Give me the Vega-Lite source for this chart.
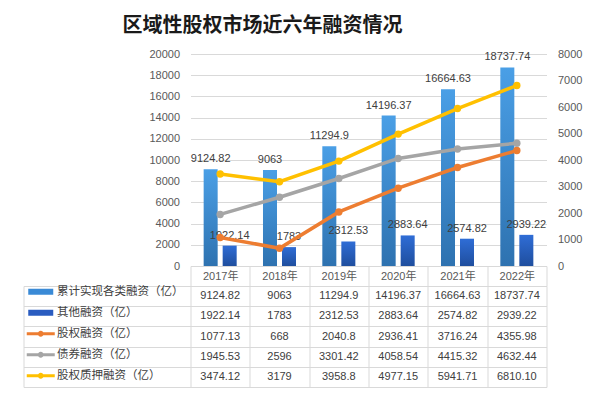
{
  "$schema": "https://vega.github.io/schema/vega-lite/v6.json",
  "padding": {"left": 22.5, "top": 16, "right": 5, "bottom": 5},
  "background": "white",
  "config": {
    "font": "Liberation Sans, Noto Sans CJK SC",
    "view": {"stroke": null},
    "axis": {"labelFont": "Liberation Sans, Noto Sans CJK SC", "labelColor": "#595959", "labelFontSize": 11}
  },
  "datasets": {
    "d": [
      {"year": "2017年", "series": "累计实现各类融资（亿）", "value": 9124.82, "label": "9124.82"},
      {"year": "2018年", "series": "累计实现各类融资（亿）", "value": 9063, "label": "9063"},
      {"year": "2019年", "series": "累计实现各类融资（亿）", "value": 11294.9, "label": "11294.9"},
      {"year": "2020年", "series": "累计实现各类融资（亿）", "value": 14196.37, "label": "14196.37"},
      {"year": "2021年", "series": "累计实现各类融资（亿）", "value": 16664.63, "label": "16664.63"},
      {"year": "2022年", "series": "累计实现各类融资（亿）", "value": 18737.74, "label": "18737.74"},
      {"year": "2017年", "series": "其他融资（亿）", "value": 1922.14, "label": "1922.14"},
      {"year": "2018年", "series": "其他融资（亿）", "value": 1783, "label": "1783"},
      {"year": "2019年", "series": "其他融资（亿）", "value": 2312.53, "label": "2312.53"},
      {"year": "2020年", "series": "其他融资（亿）", "value": 2883.64, "label": "2883.64"},
      {"year": "2021年", "series": "其他融资（亿）", "value": 2574.82, "label": "2574.82"},
      {"year": "2022年", "series": "其他融资（亿）", "value": 2939.22, "label": "2939.22"},
      {"year": "2017年", "series": "股权融资（亿）", "value": 1077.13, "label": "1077.13"},
      {"year": "2018年", "series": "股权融资（亿）", "value": 668, "label": "668"},
      {"year": "2019年", "series": "股权融资（亿）", "value": 2040.8, "label": "2040.8"},
      {"year": "2020年", "series": "股权融资（亿）", "value": 2936.41, "label": "2936.41"},
      {"year": "2021年", "series": "股权融资（亿）", "value": 3716.24, "label": "3716.24"},
      {"year": "2022年", "series": "股权融资（亿）", "value": 4355.98, "label": "4355.98"},
      {"year": "2017年", "series": "债券融资（亿）", "value": 1945.53, "label": "1945.53"},
      {"year": "2018年", "series": "债券融资（亿）", "value": 2596, "label": "2596"},
      {"year": "2019年", "series": "债券融资（亿）", "value": 3301.42, "label": "3301.42"},
      {"year": "2020年", "series": "债券融资（亿）", "value": 4058.54, "label": "4058.54"},
      {"year": "2021年", "series": "债券融资（亿）", "value": 4415.32, "label": "4415.32"},
      {"year": "2022年", "series": "债券融资（亿）", "value": 4632.44, "label": "4632.44"},
      {"year": "2017年", "series": "股权质押融资（亿）", "value": 3474.12, "label": "3474.12"},
      {"year": "2018年", "series": "股权质押融资（亿）", "value": 3179, "label": "3179"},
      {"year": "2019年", "series": "股权质押融资（亿）", "value": 3958.8, "label": "3958.8"},
      {"year": "2020年", "series": "股权质押融资（亿）", "value": 4977.15, "label": "4977.15"},
      {"year": "2021年", "series": "股权质押融资（亿）", "value": 5941.71, "label": "5941.71"},
      {"year": "2022年", "series": "股权质押融资（亿）", "value": 6810.1, "label": "6810.10"}
    ]
  },
  "bounds": "flush",
  "spacing": 20,
  "resolve": {"scale": {"color": "independent", "shape": "independent"}},
  "vconcat": [
    {
      "width": 356,
      "height": 212,
      "title": {"text": "区域性股权市场近六年融资情况", "font": "Noto Sans CJK SC", "fontSize": 20, "fontWeight": "bold", "color": "#1a1a1a", "anchor": "middle", "frame": "group", "dx": -106, "offset": 12},
      "data": {"name": "d"},
      "encoding": {
        "x": {"field": "year", "type": "nominal", "sort": null, "scale": {"paddingInner": 0, "paddingOuter": 0},
          "axis": {"orient": "bottom", "title": null, "domain": true, "domainColor": "#d9d9d9", "ticks": true, "tickBand": "extent", "tickSize": 20, "tickColor": "#d9d9d9", "labelPadding": -10, "labelBaseline": "middle", "labelAngle": 0, "labelColor": "#595959", "labelFontSize": 11}}
      },
      "layer": [
        {
          "encoding": {
            "y": {"field": "value", "type": "quantitative", "scale": {"domain": [0, 20000]},
              "axis": {"orient": "left", "title": null, "format": "d", "values": [0, 2000, 4000, 6000, 8000, 10000, 12000, 14000, 16000, 18000, 20000], "grid": true, "gridColor": "#d9d9d9", "domain": false, "ticks": false, "labelPadding": 11}},
            "xOffset": {"field": "series", "scale": {"domain": ["累计实现各类融资（亿）", "其他融资（亿）"], "paddingInner": 0.263, "paddingOuter": 0.692}}
          },
          "layer": [
            {
              "transform": [{"filter": {"field": "series", "equal": "累计实现各类融资（亿）"}}],
              "mark": {"type": "bar", "color": {"gradient": "linear", "x1": 0, "y1": 0, "x2": 0, "y2": 1, "stops": [{"offset": 0, "color": "#4A9FE6"}, {"offset": 1, "color": "#2E72B0"}]}}
            },
            {
              "transform": [{"filter": {"field": "series", "equal": "其他融资（亿）"}}],
              "mark": {"type": "bar", "color": {"gradient": "linear", "x1": 0, "y1": 0, "x2": 0, "y2": 1, "stops": [{"offset": 0, "color": "#2F6DD6"}, {"offset": 1, "color": "#1F4E9E"}]}}
            },
            {
              "transform": [{"filter": {"field": "series", "oneOf": ["累计实现各类融资（亿）", "其他融资（亿）"]}}],
              "mark": {"type": "text", "baseline": "bottom", "dy": -5, "fontSize": 11, "color": "#404040"},
              "encoding": {"text": {"field": "label"}}
            }
          ]
        },
        {
          "transform": [{"filter": {"field": "series", "oneOf": ["股权融资（亿）", "债券融资（亿）", "股权质押融资（亿）"]}}],
          "mark": {"type": "line", "strokeWidth": 3.5, "strokeCap": "round", "point": {"filled": true, "size": 55}},
          "encoding": {
            "y": {"field": "value", "type": "quantitative", "scale": {"domain": [0, 8000]},
              "axis": {"orient": "right", "title": null, "format": "d", "values": [0, 1000, 2000, 3000, 4000, 5000, 6000, 7000, 8000], "grid": false, "domain": false, "ticks": false, "labelPadding": 11}},
            "color": {"field": "series", "scale": {"domain": ["股权融资（亿）", "债券融资（亿）", "股权质押融资（亿）"], "range": ["#ED7D31", "#A5A5A5", "#FFC000"]}, "legend": null}
          }
        }
      ],
      "resolve": {"scale": {"y": "independent"}}
    },
    {
      "width": 356,
      "height": 101,
      "data": {"name": "d"},
      "encoding": {
        "x": {"field": "year", "type": "nominal", "sort": null, "scale": {"paddingInner": 0, "paddingOuter": 0},
          "axis": {"orient": "bottom", "title": null, "grid": true, "gridColor": "#d9d9d9", "tickBand": "extent", "labels": false, "ticks": false, "domain": false}},
        "y": {"field": "series", "type": "nominal", "sort": null, "scale": {"domain": ["累计实现各类融资（亿）", "其他融资（亿）", "股权融资（亿）", "债券融资（亿）", "股权质押融资（亿）"], "paddingInner": 0, "paddingOuter": 0},
          "axis": {"orient": "left", "title": null, "grid": true, "gridColor": "#d9d9d9", "tickBand": "extent", "labels": false, "ticks": true, "tickSize": -167, "tickColor": "#d9d9d9", "offset": 167, "domain": true, "domainColor": "#d9d9d9"}}
      },
      "layer": [
        {
          "mark": {"type": "text", "fontSize": 11, "color": "#404040"},
          "encoding": {"text": {"field": "label"}}
        },
        {
          "mark": {"type": "point", "filled": true, "opacity": 0},
          "encoding": {
            "color": {"field": "series", "sort": null,
              "scale": {"domain": ["累计实现各类融资（亿）", "其他融资（亿）", "股权融资（亿）", "债券融资（亿）", "股权质押融资（亿）"], "range": ["#3A8AD6", "#2A5CC0", "#ED7D31", "#A5A5A5", "#FFC000"]},
              "legend": {"orient": "none", "legendX": -155.5, "legendY": 0, "title": null, "padding": 0, "rowPadding": 8, "symbolSize": 100, "symbolStrokeWidth": 0, "symbolOpacity": 1, "labelFont": "Noto Sans CJK SC", "labelFontSize": 11.5, "labelColor": "#404040", "labelOffset": 10.5, "labelLimit": 300}},
            "shape": {"field": "series", "sort": null,
              "scale": {"domain": ["累计实现各类融资（亿）", "其他融资（亿）", "股权融资（亿）", "债券融资（亿）", "股权质押融资（亿）"], "range": ["M-2.5,-0.6H2.5V0.6H-2.5Z", "M-2.5,-0.6H2.5V0.6H-2.5Z", "M-2.8,-0.3H2.8V0.3H-2.8Z M0.6,0A0.6,0.6 0 1 1 -0.6,0A0.6,0.6 0 1 1 0.6,0Z", "M-2.8,-0.3H2.8V0.3H-2.8Z M0.6,0A0.6,0.6 0 1 1 -0.6,0A0.6,0.6 0 1 1 0.6,0Z", "M-2.8,-0.3H2.8V0.3H-2.8Z M0.6,0A0.6,0.6 0 1 1 -0.6,0A0.6,0.6 0 1 1 0.6,0Z"]},
              "legend": {"orient": "none", "legendX": -155.5, "legendY": 0, "title": null, "padding": 0, "rowPadding": 8, "symbolSize": 100, "symbolStrokeWidth": 0, "symbolOpacity": 1, "labelFont": "Noto Sans CJK SC", "labelFontSize": 11.5, "labelColor": "#404040", "labelOffset": 10.5, "labelLimit": 300}}
          }
        }
      ]
    }
  ]
}
